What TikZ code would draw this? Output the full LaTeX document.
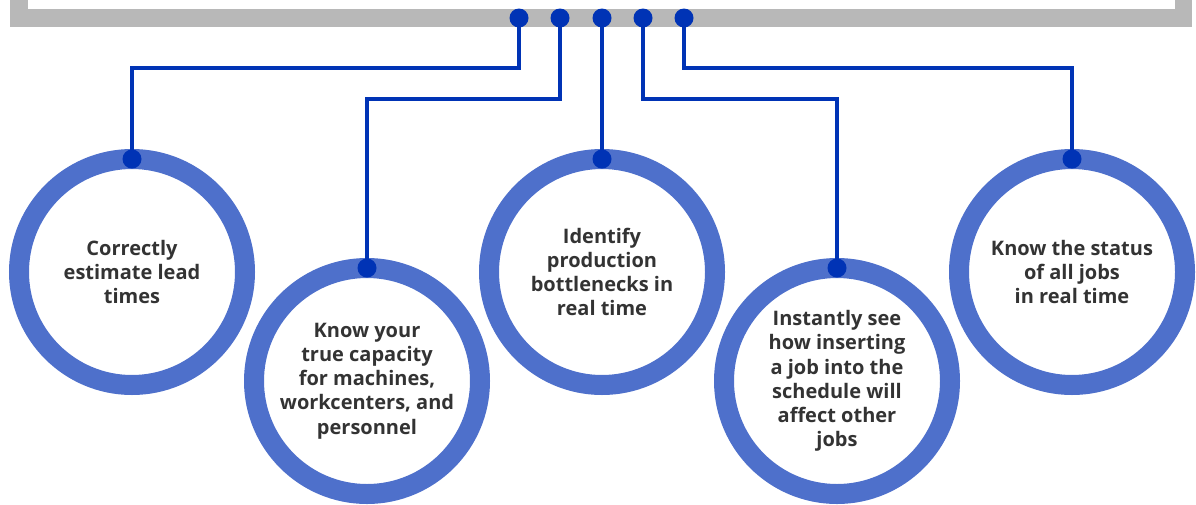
\documentclass[tikz,border=0pt]{standalone}
\usepackage{fontspec}
\setmainfont{Open Sans}
\definecolor{ring}{HTML}{4E70CB}
\definecolor{wire}{HTML}{0033B5}
\definecolor{bar}{HTML}{B8B8B8}
\definecolor{txt}{HTML}{333333}
\tikzset{
  ringnode/.style={circle, draw=ring, line width=20pt, minimum size=226pt, inner sep=0pt,
    align=center, text=txt, font=\bfseries\fontsize{20}{24.2}\selectfont},
  wiredot/.style={circle, fill=wire, inner sep=0pt, minimum size=19pt},
  conn/.style={draw=wire, line width=4.5pt}
}
\begin{document}
\begin{tikzpicture}[x=1pt,y=-1pt]
\useasboundingbox (0,0) rectangle (1196,504);
% top bar
\fill[bar] (10,0) rectangle (1192,27);
\fill[white] (28,0) rectangle (1175,9);
% circles
\node[ringnode] (c1) at (132,272) {Correctly\\estimate lead\\times};
\node[ringnode] (c2) at (367,381) {Know your\\true capacity\\for machines,\\workcenters, and\\personnel};
\node[ringnode] (c3) at (602,272) {Identify\\production\\bottlenecks in\\real time};
\node[ringnode] (c4) at (837,381) {Instantly see\\how inserting\\a job into the\\schedule will\\affect other\\jobs};
\node[ringnode] (c5) at (1072,272) {Know the status\\of all jobs\\in real time};
% bend levels
\coordinate (k1) at (0,68);
\coordinate (k2) at (0,99);
% connectors
\draw[conn] (519,18) coordinate (t1) -- (t1 |- k1) -| (132,159) coordinate (b1);
\draw[conn] (560,18) coordinate (t2) -- (t2 |- k2) -| (367,268) coordinate (b2);
\draw[conn] (602,18) coordinate (t3) -- (602,159) coordinate (b3);
\draw[conn] (643,18) coordinate (t4) -- (t4 |- k2) -| (837,268) coordinate (b4);
\draw[conn] (684,18) coordinate (t5) -- (t5 |- k1) -| (1072,159) coordinate (b5);
% dots
\foreach \p in {t1,t2,t3,t4,t5,b1,b2,b3,b4,b5}
  \node[wiredot] at (\p) {};
\end{tikzpicture}
\end{document}
